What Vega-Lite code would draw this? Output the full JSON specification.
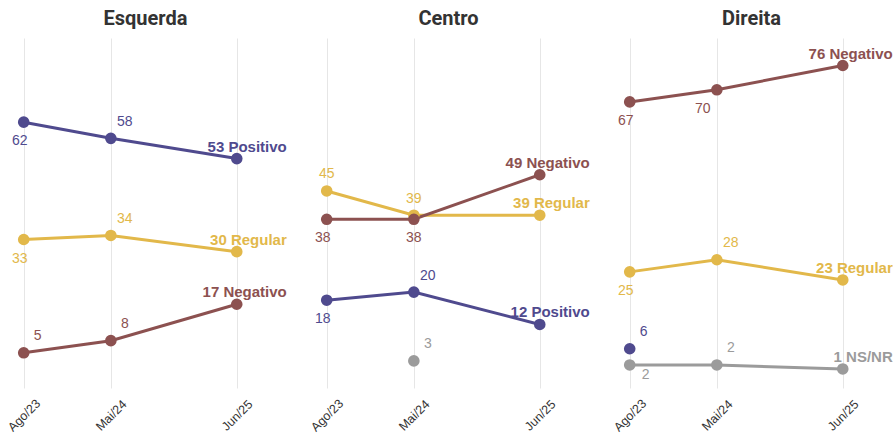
{
  "$schema": "https://vega.github.io/schema/vega-lite/v6.json",
  "padding": {"left": 4, "top": 9, "right": 0, "bottom": 0},
  "background": "white",
  "data": {
    "values": [
      {"grupo": "Esquerda", "serie": "Positivo", "data": "2023-08-01", "valor": 62, "pos": "abaixo"},
      {"grupo": "Esquerda", "serie": "Positivo", "data": "2024-05-01", "valor": 58, "pos": "acima-dir"},
      {"grupo": "Esquerda", "serie": "Positivo", "data": "2025-06-01", "valor": 53, "pos": "fim"},
      {"grupo": "Esquerda", "serie": "Regular", "data": "2023-08-01", "valor": 33, "pos": "abaixo"},
      {"grupo": "Esquerda", "serie": "Regular", "data": "2024-05-01", "valor": 34, "pos": "acima-dir"},
      {"grupo": "Esquerda", "serie": "Regular", "data": "2025-06-01", "valor": 30, "pos": "fim"},
      {"grupo": "Esquerda", "serie": "Negativo", "data": "2023-08-01", "valor": 5, "pos": "acima-dir"},
      {"grupo": "Esquerda", "serie": "Negativo", "data": "2024-05-01", "valor": 8, "pos": "acima-dir"},
      {"grupo": "Esquerda", "serie": "Negativo", "data": "2025-06-01", "valor": 17, "pos": "fim"},
      {"grupo": "Centro", "serie": "NS/NR", "data": "2024-05-01", "valor": 3, "pos": "acima-dir"},
      {"grupo": "Centro", "serie": "Positivo", "data": "2023-08-01", "valor": 18, "pos": "abaixo"},
      {"grupo": "Centro", "serie": "Positivo", "data": "2024-05-01", "valor": 20, "pos": "acima-dir"},
      {"grupo": "Centro", "serie": "Positivo", "data": "2025-06-01", "valor": 12, "pos": "fim"},
      {"grupo": "Centro", "serie": "Regular", "data": "2023-08-01", "valor": 45, "pos": "acima"},
      {"grupo": "Centro", "serie": "Regular", "data": "2024-05-01", "valor": 39, "pos": "acima"},
      {"grupo": "Centro", "serie": "Regular", "data": "2025-06-01", "valor": 39, "pos": "fim"},
      {"grupo": "Centro", "serie": "Negativo", "data": "2023-08-01", "valor": 38, "pos": "abaixo"},
      {"grupo": "Centro", "serie": "Negativo", "data": "2024-05-01", "valor": 38, "pos": "abaixo-centro"},
      {"grupo": "Centro", "serie": "Negativo", "data": "2025-06-01", "valor": 49, "pos": "fim"},
      {"grupo": "Direita", "serie": "NS/NR", "data": "2023-08-01", "valor": 2, "pos": "abaixo-dir"},
      {"grupo": "Direita", "serie": "NS/NR", "data": "2024-05-01", "valor": 2, "pos": "acima-dir"},
      {"grupo": "Direita", "serie": "NS/NR", "data": "2025-06-01", "valor": 1, "pos": "fim"},
      {"grupo": "Direita", "serie": "Positivo", "data": "2023-08-01", "valor": 6, "pos": "acima-dir"},
      {"grupo": "Direita", "serie": "Regular", "data": "2023-08-01", "valor": 25, "pos": "abaixo"},
      {"grupo": "Direita", "serie": "Regular", "data": "2024-05-01", "valor": 28, "pos": "acima-dir"},
      {"grupo": "Direita", "serie": "Regular", "data": "2025-06-01", "valor": 23, "pos": "fim"},
      {"grupo": "Direita", "serie": "Negativo", "data": "2023-08-01", "valor": 67, "pos": "abaixo"},
      {"grupo": "Direita", "serie": "Negativo", "data": "2024-05-01", "valor": 70, "pos": "abaixo-esq"},
      {"grupo": "Direita", "serie": "Negativo", "data": "2025-06-01", "valor": 76, "pos": "fim"}
    ]
  },
  "facet": {
    "column": {
      "field": "grupo",
      "type": "nominal",
      "sort": ["Esquerda", "Centro", "Direita"],
      "header": {
        "title": null,
        "labelFont": "Roboto",
        "labelFontSize": 20,
        "labelFontWeight": "bold",
        "labelColor": "#333333",
        "labelPadding": 9
      }
    }
  },
  "spacing": 20,
  "spec": {
    "width": 283,
    "height": 350,
    "encoding": {
      "x": {
        "field": "data",
        "type": "temporal",
        "scale": {
          "type": "utc",
          "domain": [
            {"year": 2023, "month": 5, "date": 31, "utc": true},
            {"year": 2025, "month": 11, "date": 6, "utc": true}
          ]
        },
        "axis": {
          "title": null,
          "values": [
            {"year": 2023, "month": 8, "date": 1, "utc": true},
            {"year": 2024, "month": 5, "date": 1, "utc": true},
            {"year": 2025, "month": 6, "date": 1, "utc": true}
          ],
          "labelExpr": "['Jan','Fev','Mar','Abr','Mai','Jun','Jul','Ago','Set','Out','Nov','Dez'][utcmonth(datum.value)] + '/' + utcFormat(datum.value, '%y')",
          "grid": true,
          "gridColor": "#e6e6e6",
          "gridWidth": 1,
          "domain": false,
          "ticks": false,
          "labelAngle": -45,
          "labelAlign": "center",
          "labelBaseline": "middle",
          "labelPadding": 27,
          "labelFont": "Liberation Sans",
          "labelFontSize": 12.5,
          "labelColor": "#333333"
        }
      },
      "y": {
        "field": "valor",
        "type": "quantitative",
        "scale": {"domain": [-3.7, 82.8], "nice": false, "zero": false},
        "axis": null
      },
      "color": {
        "field": "serie",
        "type": "nominal",
        "scale": {
          "domain": ["Positivo", "Regular", "Negativo", "NS/NR"],
          "range": ["#4f4a8e", "#e2b84a", "#8c5150", "#9b9b9b"]
        },
        "legend": null
      }
    },
    "layer": [
      {"mark": {"type": "line", "strokeWidth": 3}},
      {"mark": {"type": "point", "filled": true, "size": 135, "opacity": 1}},
      {
        "transform": [{"filter": "datum.pos != 'fim'"}],
        "mark": {
          "type": "text",
          "font": "Liberation Sans",
          "fontSize": 14,
          "baseline": "middle",
          "align": "center",
          "dx": {"expr": "datum.pos == 'acima-dir' ? 14 : datum.pos == 'abaixo-esq' ? -14 : datum.pos == 'abaixo-dir' ? 16 : datum.pos == 'abaixo' ? -4 : 0"},
          "dy": {"expr": "datum.pos == 'acima-dir' || datum.pos == 'acima' ? -16.5 : datum.pos == 'abaixo-dir' ? 10 : 19"}
        },
        "encoding": {"text": {"field": "valor", "type": "quantitative"}}
      },
      {
        "transform": [
          {"filter": "datum.pos == 'fim'"},
          {"calculate": "datum.valor + ' ' + datum.serie", "as": "rotulo"}
        ],
        "mark": {
          "type": "text",
          "font": "Liberation Sans",
          "fontSize": 15,
          "fontWeight": "bold",
          "align": "right",
          "baseline": "middle",
          "dx": 50,
          "dy": -12
        },
        "encoding": {"text": {"field": "rotulo", "type": "nominal"}}
      }
    ]
  },
  "config": {
    "view": {"stroke": null}
  }
}
